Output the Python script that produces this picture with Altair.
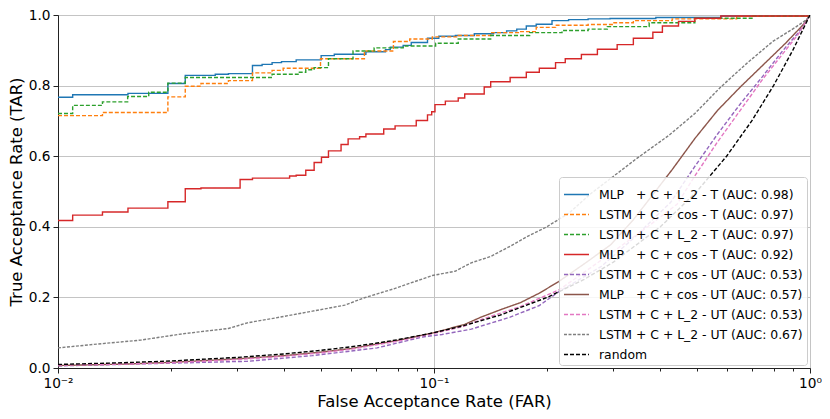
import altair as alt
import pandas as pd

NB = "\u00a0"
names = [
    "MLP" + NB * 3 + "+ C + L_2 - T (AUC: 0.98)",
    "LSTM + C + cos - T (AUC: 0.97)",
    "LSTM + C + L_2 - T (AUC: 0.97)",
    "MLP" + NB * 3 + "+ C + cos - T (AUC: 0.92)",
    "LSTM + C + cos - UT (AUC: 0.53)",
    "MLP" + NB * 3 + "+ C + cos - UT (AUC: 0.57)",
    "LSTM + C + L_2 - UT (AUC: 0.53)",
    "LSTM + C + L_2 - UT (AUC: 0.67)",
    "random",
]
colors = ["#1f77b4", "#ff7f0e", "#2ca02c", "#d62728", "#9467bd",
          "#8c564b", "#e377c2", "#7f7f7f", "#000000"]
dashes = [[1, 0], [4, 2], [4, 2], [1, 0], [4, 2], [1, 0], [4, 2], [3, 1.5], [4, 2]]
widths = [1.4, 1.4, 1.4, 1.4, 1.2, 1.4, 1.8, 1.2, 1.2]
stepped = [True, True, True, True, False, False, False, False, False]

# series values (FAR, TAR)
far_mlp_l2_t = [0.01, 0.01094, 0.01535, 0.0196, 0.0218, 0.0262, 0.0284, 0.0329, 0.0349, 0.0371,
                0.0393, 0.043, 0.0501, 0.0543, 0.0659, 0.0743, 0.0765, 0.0828, 0.087, 0.0961,
                0.103, 0.114, 0.128, 0.144, 0.156, 0.166, 0.176, 0.187, 0.206, 0.228,
                0.257, 0.294, 0.389, 0.58, 1.0]
tar_mlp_l2_t = [0.767, 0.774, 0.778, 0.806, 0.829, 0.832, 0.834, 0.857, 0.860, 0.865,
                0.868, 0.873, 0.885, 0.889, 0.896, 0.902, 0.909, 0.914, 0.922, 0.934,
                0.940, 0.942, 0.947, 0.950, 0.955, 0.960, 0.969, 0.974, 0.984, 0.987,
                0.989, 0.990, 0.993, 0.997, 1.0]

far_lstm_cos_t = [0.01, 0.01313, 0.0196, 0.0218, 0.0240, 0.0284, 0.0329, 0.0371, 0.0397, 0.0499,
                  0.0653, 0.078, 0.0862, 0.099, 0.116, 0.1415, 0.169, 0.187, 0.2105, 0.257,
                  0.301, 0.339, 0.430, 0.638, 1.0]
tar_lstm_cos_t = [0.715, 0.724, 0.768, 0.798, 0.806, 0.814, 0.836, 0.843, 0.849, 0.876,
                  0.898, 0.925, 0.932, 0.938, 0.942, 0.950, 0.953, 0.965, 0.971, 0.973,
                  0.978, 0.984, 0.989, 0.996, 1.0]

far_lstm_l2_t = [0.01, 0.01094, 0.01313, 0.01532, 0.01743, 0.0196, 0.0218, 0.0371, 0.0435, 0.0456,
                 0.048, 0.0524, 0.0609, 0.0693, 0.0828, 0.101, 0.116, 0.1415, 0.1796, 0.219,
                 0.257, 0.289, 0.3735, 0.494, 0.706, 1.0]
tar_lstm_l2_t = [0.721, 0.744, 0.754, 0.769, 0.781, 0.807, 0.823, 0.832, 0.838, 0.845,
                 0.851, 0.876, 0.898, 0.907, 0.912, 0.920, 0.932, 0.942, 0.950, 0.956,
                 0.960, 0.967, 0.978, 0.991, 0.997, 1.0]

far_mlp_cos_t = [0.01, 0.01094, 0.01313, 0.01535, 0.0196, 0.0218, 0.0240, 0.0305, 0.0329, 0.0413,
                 0.043, 0.0456, 0.048, 0.0502, 0.0524, 0.0566, 0.0591, 0.0634, 0.0659, 0.0735,
                 0.0788, 0.0897, 0.0961, 0.0986, 0.1006, 0.1072, 0.116, 0.1207, 0.136, 0.1415,
                 0.1594, 0.176, 0.1906, 0.2105, 0.2234, 0.2466, 0.272, 0.307, 0.339, 0.382,
                 0.405, 0.447, 0.494, 0.579, 1.0]
tar_mlp_cos_t = [0.418, 0.433, 0.442, 0.453, 0.471, 0.508, 0.510, 0.534, 0.538, 0.544,
                 0.546, 0.560, 0.582, 0.597, 0.615, 0.633, 0.649, 0.655, 0.663, 0.677,
                 0.686, 0.701, 0.717, 0.726, 0.746, 0.756, 0.765, 0.776, 0.796, 0.811,
                 0.823, 0.838, 0.849, 0.865, 0.876, 0.888, 0.903, 0.916, 0.934, 0.951,
                 0.969, 0.982, 0.991, 0.997, 1.0]

far_lstm_cos_ut = [0.01, 0.0319, 0.0475, 0.0706, 0.0933, 0.1051, 0.1256, 0.1594, 0.1906, 0.2147,
                   0.278, 0.339, 0.389, 0.4257, 0.494, 0.568, 0.6525, 0.7495, 0.845, 0.933, 1.0]
tar_lstm_cos_ut = [0.006, 0.019, 0.035, 0.057, 0.088, 0.095, 0.110, 0.144, 0.177, 0.216,
                   0.287, 0.367, 0.429, 0.469, 0.571, 0.663, 0.748, 0.827, 0.898, 0.951, 1.0]

far_mlp_cos_ut = [0.01, 0.015, 0.02, 0.03, 0.04, 0.05, 0.06, 0.08, 0.1, 0.1207,
                  0.1333, 0.1502, 0.1697, 0.1906, 0.2147, 0.2517, 0.295, 0.339, 0.3706, 0.430,
                  0.494, 0.568, 0.6525, 0.7495, 0.861, 0.970, 1.0]
tar_mlp_cos_ut = [0.007, 0.011, 0.016, 0.026, 0.035, 0.045, 0.055, 0.078, 0.100, 0.1235,
                  0.144, 0.165, 0.185, 0.212, 0.245, 0.296, 0.349, 0.420, 0.473, 0.562,
                  0.650, 0.730, 0.796, 0.858, 0.920, 0.978, 1.0]

far_lstm_l2_ut = [0.01, 0.015, 0.02, 0.03, 0.04, 0.05, 0.06, 0.08, 0.1, 0.12,
                  0.1333, 0.1697, 0.2147, 0.25, 0.3, 0.37, 0.443, 0.494, 0.568, 0.6525,
                  0.7495, 0.845, 0.933, 1.0]
tar_lstm_l2_ut = [0.008, 0.011, 0.015, 0.024, 0.033, 0.043, 0.053, 0.076, 0.098, 0.118,
                  0.137, 0.174, 0.221, 0.270, 0.330, 0.400, 0.464, 0.544, 0.641, 0.730,
                  0.819, 0.889, 0.947, 1.0]

far_lstm_l2_ut2 = [0.01, 0.0128, 0.0166, 0.0215, 0.0284, 0.0319, 0.0389, 0.0475, 0.0579, 0.0653,
                   0.078, 0.099, 0.1137, 0.1256, 0.1415, 0.1594, 0.1796, 0.198, 0.228, 0.262,
                   0.3456, 0.4215, 0.494, 0.579, 0.679, 0.796, 0.914, 0.98, 1.0]
tar_lstm_l2_ut2 = [0.057, 0.068, 0.079, 0.097, 0.112, 0.128, 0.144, 0.161, 0.178, 0.199,
                   0.224, 0.262, 0.274, 0.298, 0.316, 0.345, 0.376, 0.398, 0.438, 0.495,
                   0.593, 0.659, 0.721, 0.796, 0.863, 0.925, 0.965, 0.987, 1.0]

far_random = [0.01, 0.015, 0.02, 0.03, 0.04, 0.05, 0.06, 0.07, 0.08, 0.1, 0.12, 0.15,
              0.2, 0.25, 0.3, 0.4, 0.5, 0.6, 0.7, 0.8, 0.9, 1.0]
tar_random = [0.01, 0.015, 0.02, 0.03, 0.04, 0.05, 0.06, 0.07, 0.08, 0.1, 0.12, 0.15,
              0.2, 0.25, 0.3, 0.4, 0.5, 0.6, 0.7, 0.8, 0.9, 1.0]

series_far = [far_mlp_l2_t, far_lstm_cos_t, far_lstm_l2_t, far_mlp_cos_t, far_lstm_cos_ut,
              far_mlp_cos_ut, far_lstm_l2_ut, far_lstm_l2_ut2, far_random]
series_tar = [tar_mlp_l2_t, tar_lstm_cos_t, tar_lstm_l2_t, tar_mlp_cos_t, tar_lstm_cos_ut,
              tar_mlp_cos_ut, tar_lstm_l2_ut, tar_lstm_l2_ut2, tar_random]

x_ticks = [0.01, 0.02, 0.03, 0.04, 0.05, 0.06, 0.07, 0.08, 0.09,
           0.1, 0.2, 0.3, 0.4, 0.5, 0.6, 0.7, 0.8, 0.9, 1.0]
x_major = [0.01, 0.1, 1.0]
x_major_labels = ["10\u207b\u00b2", "10\u207b\u00b9", "10\u2070"]
y_ticks = [0.0, 0.2, 0.4, 0.6, 0.8, 1.0]

rows_step, rows_lin = [], []
for i, name in enumerate(names):
    target = rows_step if stepped[i] else rows_lin
    for j, (fx, ty) in enumerate(zip(series_far[i], series_tar[i])):
        target.append({"series": name, "far": fx, "tar": ty, "k": i * 1000 + j})
df_step = pd.DataFrame(rows_step)
df_lin = pd.DataFrame(rows_lin)

major_test = "indexof([0.01, 0.1, 1], datum.value) >= 0"
label_expr = " : ".join(
    f"datum.value == {v} ? '{l}'" for v, l in zip(x_major, x_major_labels)
) + " : ''"

FONT = "DejaVu Sans"
legend = alt.Legend(
    title=None, orient="bottom-right", offset=3, symbolType="stroke", symbolSize=625,
    labelFont=FONT, labelFontSize=12.4, labelLimit=0, labelColor="black",
    fillColor="rgba(255,255,255,0.85)", strokeColor="#cccccc", padding=4,
    cornerRadius=3, rowPadding=0, labelOffset=9,
)

x_enc = alt.X(
    "far:Q",
    scale=alt.Scale(type="log", domain=[0.01, 1.0]),
    axis=alt.Axis(
        values=x_ticks, labelExpr=label_expr, title="False Acceptance Rate (FAR)",
        grid=True, gridColor="#c4c4c4", gridWidth=1,
        gridOpacity={"condition": {"test": major_test, "value": 1}, "value": 0},
        tickSize={"condition": {"test": major_test, "value": 5}, "value": 3},
        labelOverlap=False, labelFlush=False, labelPadding=3, titlePadding=4,
    ),
)
y_enc = alt.Y(
    "tar:Q",
    scale=alt.Scale(domain=[0.0, 1.0]),
    axis=alt.Axis(
        values=y_ticks, format=".1f", title="True Acceptance Rate (TAR)",
        grid=True, gridColor="#c4c4c4", gridWidth=1, tickSize=5,
        labelPadding=3, titlePadding=4,
    ),
)
color_enc = alt.Color("series:N", scale=alt.Scale(domain=names, range=colors), legend=legend)
dash_enc = alt.StrokeDash("series:N", scale=alt.Scale(domain=names, range=dashes), legend=legend)
width_enc = alt.StrokeWidth("series:N", scale=alt.Scale(domain=names, range=widths), legend=legend)

step_layer = alt.Chart(df_step).mark_line(interpolate="step-after", clip=True).encode(
    x=x_enc, y=y_enc, color=color_enc, strokeDash=dash_enc, strokeWidth=width_enc,
    order="k:Q",
)
lin_layer = alt.Chart(df_lin).mark_line(clip=True).encode(
    x=x_enc, y=y_enc, color=color_enc, strokeDash=dash_enc, strokeWidth=width_enc,
    order="k:Q",
)

chart = alt.layer(step_layer, lin_layer).properties(
    width=814, height=403, padding=0,
    autosize=alt.AutoSizeParams(type="fit", contains="padding"),
).configure_view(
    stroke="#222222", strokeWidth=1,
).configure_axis(
    labelFont=FONT, titleFont=FONT, labelFontSize=13.7, titleFontSize=16.5,
    titleFontWeight="normal", labelColor="black", titleColor="black",
    domainColor="#222222", tickColor="#222222",
)

chart.save("out.html", embed_options={"renderer": "svg", "actions": False})
